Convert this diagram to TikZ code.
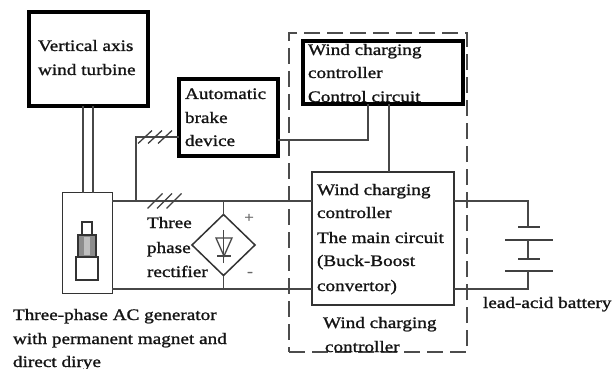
\documentclass[tikz,border=0pt]{standalone}
\usepackage{fontspec}
\setmainfont[FakeStretch=1.2,FakeBold=1.2]{Liberation Serif}
\usetikzlibrary{shapes.geometric,calc}
\begin{document}
\begin{tikzpicture}[x=1pt,y=-1pt,
  wire/.style={draw=black!72, line width=1.5pt},
  thickbox/.style={draw=black, line width=4pt, inner sep=0pt, outer sep=0pt, fill=white},
  thinbox/.style={draw=black!80, line width=1.6pt, inner sep=0pt, outer sep=0pt},
  dashbox/.style={draw=black!70, line width=2pt, dash pattern=on 16pt off 7pt, inner sep=0pt, outer sep=0pt},
  txt/.style={anchor=base west, inner sep=0pt, outer sep=0pt, text=black!92, font=\fontsize{16}{19}\selectfont},
  sym/.style={inner sep=0pt, outer sep=0pt, text=black!60, font=\fontsize{14}{16}\selectfont},
  slash/.style={draw=black!75, line width=1.3pt},
  plate/.style={draw=black!75, line width=2pt},
]
\fill[white] (0,0) rectangle (614,369);
\useasboundingbox (0,0) rectangle (614,369);

% dashed enclosure
\node[dashbox, minimum width=178pt, minimum height=319pt] (enc) at (378,192.5) {};

% boxes
\node[thickbox, minimum width=119pt, minimum height=94pt] (turb) at (88.5,59) {};
\node[thickbox, minimum width=99pt, minimum height=77pt] (brake) at (228.5,117.5) {};
\node[thickbox, minimum width=160pt, minimum height=63pt] (ctrl) at (383,72.5) {};
\node[thinbox, minimum width=142.4pt, minimum height=133.4pt] (main) at (383,238.5) {};
\node[thinbox, line width=1.4pt, minimum width=49.6pt, minimum height=100.6pt] (gen) at (87.5,243) {};
\node[diamond, draw=black!80, line width=1.5pt, inner sep=0pt, outer sep=0pt, minimum width=63pt, minimum height=61pt] (rect) at (223.5,245) {};

% helper coordinates
\coordinate (rowA) at (0,201);
\coordinate (rowB) at (0,289);
\coordinate (brY) at (0,137);
\coordinate (brX) at (136,0);
\coordinate (br2Y) at (0,140);
\coordinate (c1X) at (368,0);
\coordinate (c2X) at (389,0);
\coordinate (batX) at (528,0);

% shaft
\draw[wire] ([xshift=-5.5pt]turb.south) -- ([xshift=-4.5pt]gen.north);
\draw[wire] ([xshift=4.5pt]turb.south) -- ([xshift=5.5pt]gen.north);

% main wires
\draw[wire] (gen.east |- rowA) -- (main.west |- rowA);
\draw[wire] (gen.east |- rowB) -- (main.west |- rowB);
\draw[wire] (rect.north) -- (rect.north |- rowA);
\draw[wire] (rect.south) -- (rect.south |- rowB);

% brake branch
\draw[wire] (brX |- rowA) -- (brX |- brY) -- (brake.west |- brY);
\draw[wire] (brake.east |- br2Y) -- (c1X |- br2Y) -- (c1X |- ctrl.south);
\draw[wire] (c2X |- ctrl.south) -- (c2X |- main.north);

% slash marks (three-phase)
\foreach \cx in {145,155,165} \draw[slash] (\cx-7,137+6.5) -- (\cx+7,137-6.5);
\foreach \cx in {155,164.5,174} \draw[slash] (\cx-7.5,201+7.5) -- (\cx+7.5,201-7.5);

% battery
\coordinate (bat) at (528,249);
\draw[wire] (main.east |- rowA) -- (batX |- rowA) -- (528,227);
\draw[plate] (518,227) -- (540,227);
\draw[plate] (505,240) -- (553,240);
\draw[wire] (528,240) -- (528,259);
\draw[plate] (518,259) -- (540,259);
\draw[plate] (505,271) -- (553,271);
\draw[wire] (528,271) -- (batX |- rowB) -- (main.east |- rowB);

% diode symbol in rectifier
\draw[wire, line width=1.3pt] ([yshift=-18pt]rect.center) -- ([yshift=15pt]rect.center);
\draw[wire, line width=1.3pt] (216,238) -- (232,238) -- (224,256) -- cycle;
\draw[wire, line width=1.3pt] (217,256) -- (231,256);

% generator icon
\draw[draw=black!80, line width=1.3pt] (82,222) rectangle (92,235);
\draw[draw=black!80, line width=1.3pt, fill=black!45] (78,235) rectangle (96,257);
\fill[black!25] (84,237) rectangle (90,255);
\draw[draw=black!80, line width=1.3pt, fill=white] (76,257) rectangle (98,280);

% texts
\node[txt] (t1) at (38,51) {Vertical axis};
\node[txt] (t2) at (38,75) {wind turbine};
\node[txt] (t3) at (185,99) {Automatic};
\node[txt] (t4) at (185,123) {brake};
\node[txt] (t5) at (185,146) {device};
\node[txt] (t6) at (308,55) {Wind charging};
\node[txt] (t7) at (308,78) {controller};
\node[txt] (t8) at (308,102) {Control circuit};
\node[txt] (t9) at (317,195) {Wind charging};
\node[txt] (t10) at (317,218) {controller};
\node[txt] (t11) at (317,243) {The main circuit};
\node[txt] (t12) at (317,266) {(Buck-Boost};
\node[txt] (t13) at (317,291) {convertor)};
\node[txt] (t14) at (323,328) {Wind charging};
\node[txt] (t15) at (325,352) {controller};
\node[txt] (t16) at (147,228) {Three};
\node[txt] (t17) at (147,253) {phase};
\node[txt] (t18) at (147,277) {rectifier};
\node[txt] (t19) at (13,320) {Three-phase AC generator};
\node[txt] (t20) at (13,344) {with permanent magnet and};
\node[txt] (t21) at (13,367) {direct dirye};
\node[txt] (t22) at (483,308) {lead-acid battery};
\node[sym] (plus) at (249,218) {+};
\node[sym] (minus) at (250,274) {-};
\end{tikzpicture}
\end{document}
